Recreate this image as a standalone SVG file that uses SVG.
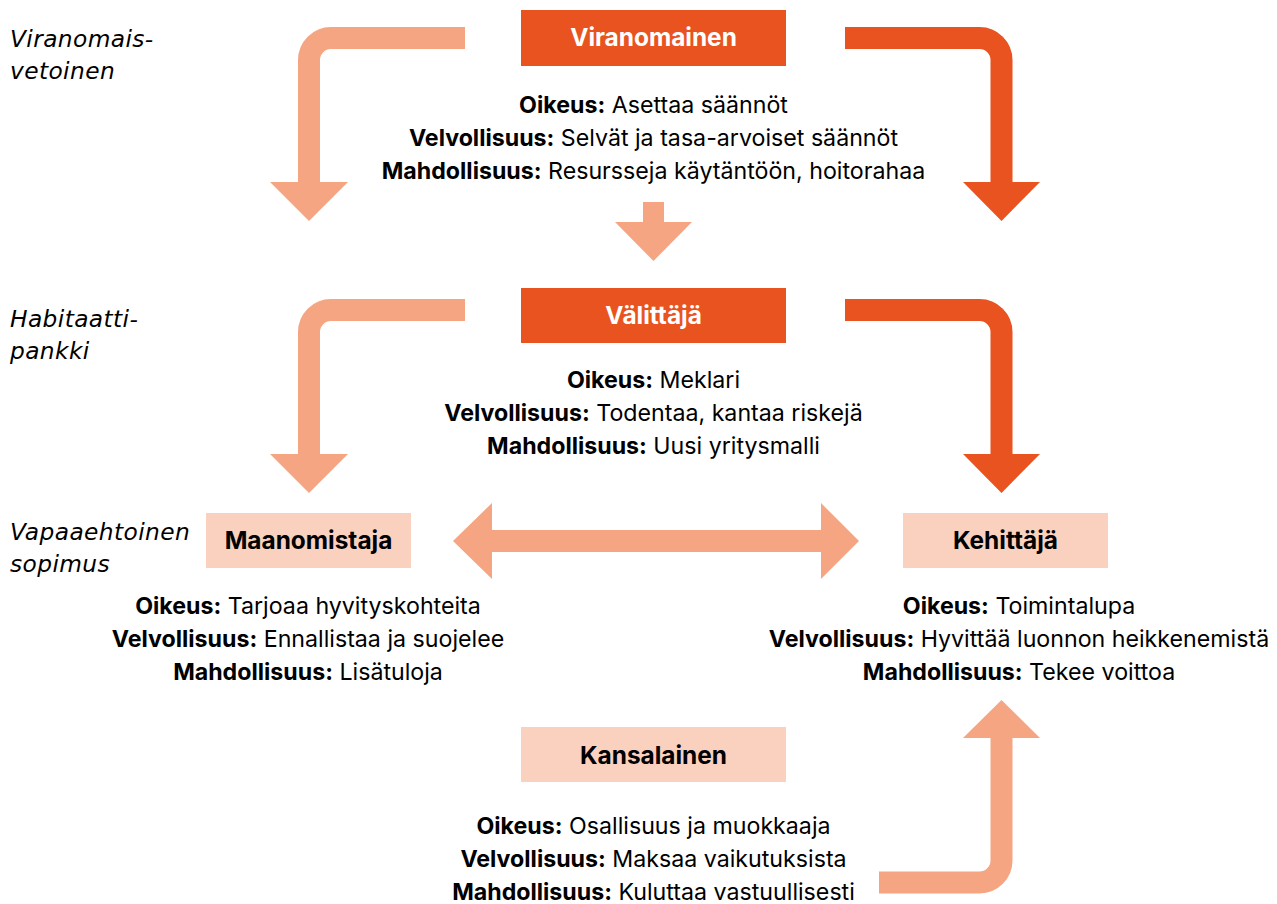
<svg xmlns="http://www.w3.org/2000/svg" width="1277" height="904" viewBox="0 0 1277 904">
<style>
.dark{fill:#E8531F}
.lightbox{fill:#FAD1BE}
.sl{fill:none;stroke:#F5A582;stroke-width:22}
.sd{fill:none;stroke:#E8531F;stroke-width:22}
.hl{fill:#F5A582}
.hd{fill:#E8531F}
.t{font-family:Inter,"Liberation Sans",sans-serif;font-size:23.2px;fill:#000;text-anchor:middle}
.t .b{font-weight:700}
.tw{font-family:Inter,"Liberation Sans",sans-serif;font-size:24.4px;font-weight:700;fill:#fff;text-anchor:middle}
.tb{font-family:Inter,"Liberation Sans",sans-serif;font-size:24.4px;font-weight:700;fill:#000;text-anchor:middle}
.side{font-family:"DejaVu Sans","Liberation Sans",sans-serif;font-style:italic;font-size:23.3px;letter-spacing:0.4px;fill:#000}
</style>
<rect width="1277" height="904" fill="#fff"/>
<g id="side-labels">
<text class="side" x="10" y="47">Viranomais-</text>
<text class="side" x="10" y="79">vetoinen</text>
<text class="side" x="10" y="327">Habitaatti-</text>
<text class="side" x="10" y="359">pankki</text>
<text class="side" x="10" y="540">Vapaaehtoinen</text>
<text class="side" x="10" y="572">sopimus</text>
</g>
<g id="connectors">
<path class="sl" d="M465,38 H331 A22,22 0 0 0 309,60 V183"/>
<polygon class="hl" points="270,182 348,182 309,221"/>
<path class="sd" d="M845,38 H979.5 A22,22 0 0 1 1001.5,60 V183"/>
<polygon class="hd" points="963,182 1040,182 1001.5,221"/>
<rect class="hl" x="643" y="202" width="21" height="21"/>
<polygon class="hl" points="615,222 692,222 653.5,261"/>
<path class="sl" d="M465,310 H331 A22,22 0 0 0 309,332 V455"/>
<polygon class="hl" points="270,454 348,454 309,493"/>
<path class="sd" d="M845,310 H979.5 A22,22 0 0 1 1001.5,332 V455"/>
<polygon class="hd" points="963,454 1040,454 1001.5,493"/>
<polygon class="hl" points="453,541 492,503 492,530 821,530 821,503 859,541 821,579 821,552 492,552 492,579"/>
<path class="sl" d="M879,882.5 H979.5 A22,22 0 0 0 1001.5,860.5 V737"/>
<polygon class="hl" points="963,738 1040,738 1001.5,700"/>
</g>
<g id="viranomainen">
<rect class="dark" x="521" y="10" width="265" height="56"/>
<text class="tw" x="653.5" y="46">Viranomainen</text>
<text class="t" x="653.5" y="113"><tspan class="b">Oikeus:</tspan> Asettaa säännöt</text>
<text class="t" x="653.5" y="146"><tspan class="b">Velvollisuus:</tspan> Selvät ja tasa-arvoiset säännöt</text>
<text class="t" x="653.5" y="179"><tspan class="b">Mahdollisuus:</tspan> Resursseja käytäntöön, hoitorahaa</text>
</g>
<g id="valittaja">
<rect class="dark" x="521" y="288" width="265" height="55"/>
<text class="tw" x="653.5" y="324">Välittäjä</text>
<text class="t" x="653.5" y="388"><tspan class="b">Oikeus:</tspan> Meklari</text>
<text class="t" x="653.5" y="421"><tspan class="b">Velvollisuus:</tspan> Todentaa, kantaa riskejä</text>
<text class="t" x="653.5" y="454"><tspan class="b">Mahdollisuus:</tspan> Uusi yritysmalli</text>
</g>
<g id="maanomistaja">
<rect class="lightbox" x="206" y="513" width="205" height="55"/>
<text class="tb" x="308.5" y="549">Maanomistaja</text>
<text class="t" x="308" y="614"><tspan class="b">Oikeus:</tspan> Tarjoaa hyvityskohteita</text>
<text class="t" x="308" y="647"><tspan class="b">Velvollisuus:</tspan> Ennallistaa ja suojelee</text>
<text class="t" x="308" y="680"><tspan class="b">Mahdollisuus:</tspan> Lisätuloja</text>
</g>
<g id="kehittaja">
<rect class="lightbox" x="903" y="513" width="205" height="55"/>
<text class="tb" x="1005.5" y="549">Kehittäjä</text>
<text class="t" x="1019" y="614"><tspan class="b">Oikeus:</tspan> Toimintalupa</text>
<text class="t" x="1019" y="647"><tspan class="b">Velvollisuus:</tspan> Hyvittää luonnon heikkenemistä</text>
<text class="t" x="1019" y="680"><tspan class="b">Mahdollisuus:</tspan> Tekee voittoa</text>
</g>
<g id="kansalainen">
<rect class="lightbox" x="521" y="727" width="265" height="55"/>
<text class="tb" x="653.5" y="764">Kansalainen</text>
<text class="t" x="653.5" y="834"><tspan class="b">Oikeus:</tspan> Osallisuus ja muokkaaja</text>
<text class="t" x="653.5" y="867"><tspan class="b">Velvollisuus:</tspan> Maksaa vaikutuksista</text>
<text class="t" x="653.5" y="900"><tspan class="b">Mahdollisuus:</tspan> Kuluttaa vastuullisesti</text>
</g>
</svg>
